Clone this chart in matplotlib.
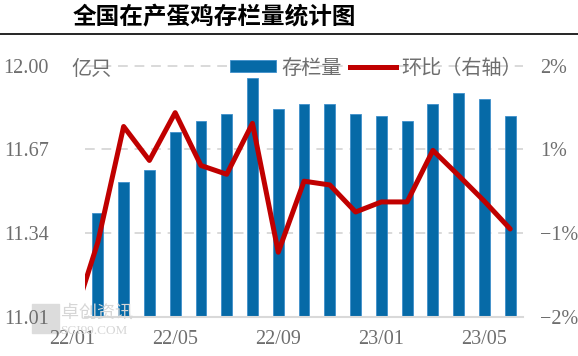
#!/usr/bin/env python3
# 全国在产蛋鸡存栏量统计图: bars (left axis, 亿只) + month-on-month line (right axis)

import numpy as np
from matplotlib import pyplot as plt
from matplotlib import transforms
from matplotlib.patches import Patch, Rectangle
from matplotlib.lines import Line2D

plt.rcParams['font.family'] = ['Noto Sans CJK SC', 'DejaVu Sans']

months = ['22/01', '22/02', '22/03', '22/04', '22/05', '22/06', '22/07', '22/08', '22/09',
          '22/10', '22/11', '22/12', '23/01', '23/02', '23/03', '23/04', '23/05', '23/06']
# 22/01 bar lies outside the visible range
stock = [np.nan, 11.42, 11.54, 11.59, 11.74, 11.78, 11.81, 11.95, 11.83,
         11.85, 11.85, 11.81, 11.80, 11.78, 11.85, 11.89, 11.87, 11.80]
mom = [-2.1, -0.81, 1.03, 0.49, 1.25, 0.41, 0.27, 1.08, -0.97,
       0.16, 0.10, -0.33, -0.17, -0.17, 0.65, 0.25, -0.16, -0.60]

left_ticks = [11.01, 11.34, 11.67, 12.00]
right_ticks = [-2, -2 / 3, 2 / 3, 2]
right_labels = ['\u22122%', '\u22121%', '1%', '2%']

blue = '#066aa7'
red = '#c00000'
grey = '#6e6e6e'
grid_c = '#d9d9d9'
num_font = ['Liberation Serif', 'DejaVu Serif']

fig = plt.figure(figsize=(5.78, 3.56), dpi=100)
ax = fig.add_axes([0.147, 0.1096, 0.758, 0.7064])
x = np.arange(len(months))

ax.bar(x, stock, width=0.42, color=blue, edgecolor='#3f8fcc', linewidth=0.6, zorder=3)
ax.set_xlim(0.5, len(months) - 0.5)
ax.set_ylim(left_ticks[0], left_ticks[-1])
ax.set_yticks(left_ticks)
ax.set_yticklabels(['%.2f' % v for v in left_ticks], family=num_font, fontsize=14.5, color=grey)
ax.tick_params(axis='y', length=0, pad=26)
ax.set_xticks([])
for s in ['top', 'left', 'right']:
    ax.spines[s].set_visible(False)
ax.spines['bottom'].set_color(grid_c)
ax.spines['bottom'].set_linewidth(1.5)
ax.spines['bottom'].set_zorder(4)
for v in left_ticks[1:]:
    ax.axhline(v, color=grid_c, lw=1.4, ls=(0, (5, 3.5)), zorder=1, clip_on=False)

# category labels every 4 months (first one sits just left of the plot)
trans = transforms.blended_transform_factory(ax.transData, ax.transAxes)
for i in range(0, len(months), 4):
    ax.text(i, -0.09, months[i], transform=trans, ha='center', va='center',
            family=num_font, fontsize=14.5, color=grey, clip_on=False)

ax2 = ax.twinx()
ax2.plot(x, mom, color=red, lw=3.6, solid_joinstyle='round', solid_capstyle='round', zorder=5)
ax2.set_ylim(-2, 2)
ax2.set_yticks(right_ticks)
ax2.set_yticklabels(right_labels, family=num_font, fontsize=14.5, color=grey)
ax2.tick_params(axis='y', length=0, pad=12)
for s in ax2.spines.values():
    s.set_visible(False)

ax.text(-0.03, 0.985, '亿只', transform=ax.transAxes, ha='left', va='center',
        fontsize=14.5, color=grey)

handles = [Patch(facecolor=blue, edgecolor='#3f8fcc', linewidth=0.6),
           Line2D([], [], color=red, lw=3.6)]
fig.legend(handles, ['存栏量', '环比（右轴）'], loc='center left',
           bbox_to_anchor=(230 / 578, 1 - 68 / 356), ncol=2, frameon=False,
           fontsize=14.5, labelcolor=grey, handlelength=2.3, handleheight=0.55,
           handletextpad=0.25, columnspacing=0.4, borderpad=0, borderaxespad=0)

# title and rule
fig.text(73 / 578, 1 - 17 / 356, '全国在产蛋鸡存栏量统计图', ha='left', va='center',
         fontsize=17, fontweight='bold', color='black')
fig.add_artist(Line2D([0, 1], [1 - 34 / 356, 1 - 34 / 356], color='black', lw=1.2,
                      transform=fig.transFigure))

# faint watermark
fig.add_artist(Rectangle((32 / 578, 1 - 333 / 356), 27 / 578, 29 / 356,
                         transform=fig.transFigure, color='#dcdcdc', zorder=0))
fig.text(61 / 578, 1 - 313 / 356, '卓创资讯', fontsize=13, color='#d6d6d6',
         ha='left', va='center', zorder=0)
fig.text(60 / 578, 1 - 331 / 356, 'SCI99.COM', fontsize=9.5, color='#d6d6d6',
         family=num_font, ha='left', va='center', zorder=0)

fig.savefig('out.png', dpi=100)
